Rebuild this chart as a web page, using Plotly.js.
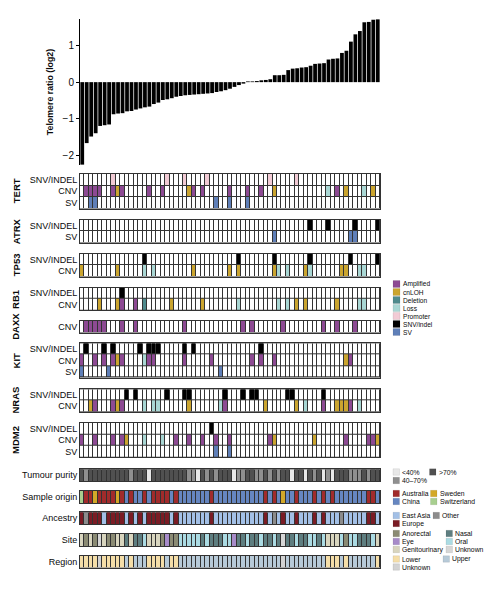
<!DOCTYPE html>
<html><head><meta charset="utf-8">
<script src="https://cdn.plot.ly/plotly-3.0.1.min.js"></script>
<style>body{margin:0;background:#fff}#chart{width:496px;height:590px}</style>
</head><body><div id="chart"></div>
<script>
// ---------------- DATA ----------------
const telomereRatio = [-2.26,-1.67,-1.49,-1.40,-1.20,-1.18,-1.16,-0.88,-0.86,-0.85,
  -0.80,-0.79,-0.75,-0.72,-0.69,-0.67,-0.60,-0.56,-0.49,-0.47,
  -0.44,-0.40,-0.38,-0.36,-0.35,-0.34,-0.33,-0.32,-0.31,-0.30,
  -0.27,-0.25,-0.22,-0.18,-0.13,-0.08,-0.04,0.02,0.02,0.03,
  0.05,0.06,0.08,0.19,0.19,0.20,0.33,0.37,0.38,0.40,
  0.41,0.45,0.50,0.51,0.52,0.62,0.64,0.65,0.80,0.86,
  1.11,1.31,1.40,1.64,1.65,1.71,1.72];
const nSamples = telomereRatio.length;

const mutCategories = ["Amplified","cnLOH","Deletion","Loss","Promoter","SNV/indel","SV"];
const mutColors = ["#8d4a93","#cba52f","#4f8b8d","#a9d7d4","#f2cbd5","#000000","#5f7fb8"];

// sample indices (0-based, in telomere order) carrying each alteration
const TERT_SNV  = {Promoter:[7,19,23,28,42,48]};
const TERT_CNV  = {Amplified:[1,2,3,4,7,9,15,18,25,27,33,37,40,57], cnLOH:[8,24,43,59,65], Loss:[55,63]};
const TERT_SV   = {SV:[2,3,30,33,37]};
const ATRX_SNV  = {"SNV/indel":[51,55,61,66]};
const ATRX_SV   = {SV:[43,60,61]};
const TP53_SNV  = {"SNV/indel":[14,35,43,51,60,66]};
const TP53_CNV  = {cnLOH:[0,8,25,33,35,43,50,58,59], Loss:[14,16,44,46,51,62,63]};
const RB1_SNV   = {"SNV/indel":[9]};
const RB1_CNV   = {cnLOH:[4,8,20,27,48,50,57], Amplified:[9,12], Deletion:[14], Loss:[35,44,46,62,63]};
const DAXX_CNV  = {Amplified:[1,2,3,4,5,9,12,23,36,38,45,54,57,61]};
const KIT_SNV   = {"SNV/indel":[1,5,7,13,15,16,17,23,25,40]};
const KIT_CNV   = {Amplified:[0,3,5,7,9,15,16,23,29,38,40,43,60], cnLOH:[8,59], Loss:[14]};
const KIT_SV    = {SV:[0,6,31]};
const NRAS_SNV  = {"SNV/indel":[10,12,19,23,24,32,36,38,39,46,47,54]};
const NRAS_CNV  = {cnLOH:[2,8,24,41,48,57,58,59], Amplified:[3,7,9,32,54,60], Loss:[14,16,17,31,50,62]};
const MDM2_SNV  = {"SNV/indel":[29]};
const MDM2_CNV  = {Amplified:[0,3,7,9,21,24,27,30,33,42,59,64,65], cnLOH:[10,43,52,66], Loss:[14,18]};
const MDM2_SV   = {SV:[30,33]};

const genes = ["TERT","ATRX","TP53","RB1","DAXX","KIT","NRAS","MDM2"];
const geneRows = {
  TERT: [["SNV/INDEL",TERT_SNV],["CNV",TERT_CNV],["SV",TERT_SV]],
  ATRX: [["SNV/INDEL",ATRX_SNV],["SV",ATRX_SV]],
  TP53: [["SNV/INDEL",TP53_SNV],["CNV",TP53_CNV]],
  RB1:  [["SNV/INDEL",RB1_SNV],["CNV",RB1_CNV]],
  DAXX: [["CNV",DAXX_CNV]],
  KIT:  [["SNV/INDEL",KIT_SNV],["CNV",KIT_CNV],["SV",KIT_SV]],
  NRAS: [["SNV/INDEL",NRAS_SNV],["CNV",NRAS_CNV]],
  MDM2: [["SNV/INDEL",MDM2_SNV],["CNV",MDM2_CNV],["SV",MDM2_SV]]
};

// clinical tracks: one letter per sample (spaces only for readability)
const purityCodes   = "HMHHHHHHHH HMHHHLHHHH HHHHMMLHMH MHHHLMMHHM MHMHMHHLHH LHMHLMLHHH MMMHMHH";
const purityKeys    = {L:"<40%", M:"40\u201370%", H:">70%"};
const purityColors  = {L:"#e8e8e8", M:"#8f8f8f", H:"#505050"};

const originCodes   = "WRRSRRRRSR BRBBRBRRRR BRBBBBBBBR BBBBBBBBBB BRBRBSBBRB BBRBRBRBBB BBBBRRB";
const originKeys    = {R:"Australia", B:"China", S:"Sweden", W:"Switzerland"};
const originColors  = {R:"#a12b2b", B:"#6686c0", S:"#d3a828", W:"#a8cf8f"};

const ancestryCodes = "UOUUUEUUUU EUEUEUUUUU EUEEEEEEEU EEEEEEEEEE EUEOEUEEUE EEUEUEEEOE EEEEUUE";
const ancestryKeys  = {E:"East Asia", U:"Europe", O:"Other"};
const ancestryColors= {E:"#a3c0e6", U:"#7a1c25", O:"#8c8c8c"};

const siteCodes     = "GAGAUGAAGG NGNNOGGGAE AAOOOOONON NNOOENNONN ONNONUNNON NOONOGGGOA OONNNOG";
const siteKeys      = {A:"Anorectal", E:"Eye", G:"Genitourinary", N:"Nasal", O:"Oral", U:"Unknown"};
const siteColors    = {A:"#8b8b74", E:"#a78bc9", G:"#d8d5be", N:"#5e7e80", O:"#abdbe3", U:"#d6d6d6"};

const regionCodes   = "LLLLXLLLLL PLPPPLLLLP LLPPPPPPPP PPPPPPPPPP PPPPPXPPPP PPPPPLLLPL PPPPPPL";
const regionKeys    = {L:"Lower", P:"Upper", X:"Unknown"};
const regionColors  = {L:"#f5dea8", P:"#b7cad8", X:"#d3d3d3"};

const trackNames = ["Tumour purity","Sample origin","Ancestry","Site","Region"];

// ---------------- LAYOUT HELPERS ----------------
const W = 496, H = 590;
const FONT = "Liberation Sans, Arial, sans-serif";
const px2y = p => 1 - p / H;
const dom = (top, bottom) => [px2y(bottom), px2y(top)];
const xDom = [80 / W, 380 / W];
const GRID = "#333333";
const TXT = "#0a0a0a";

const sampleIdx = Array.from({length: nSamples}, (_, i) => i);

function discreteScale(colors) {
  const n = colors.length, cs = [];
  colors.forEach((c, i) => { cs.push([i / n, c]); cs.push([(i + 1) / n, c]); });
  return cs;
}

const traces = [];
const layout = {
  width: W, height: H, autosize: false,
  margin: {l: 0, r: 0, t: 0, b: 0},
  paper_bgcolor: "#fff", plot_bgcolor: "#fff",
  showlegend: false, hovermode: false,
  font: {family: FONT, color: TXT, size: 9},
  bargap: 0.16,
  shapes: [], annotations: []
};

// bar chart
traces.push({type: "bar", x: sampleIdx, y: telomereRatio, xaxis: "x", yaxis: "y",
  marker: {color: "#000", line: {width: 0}}});
layout.xaxis = {domain: xDom, range: [-0.5, nSamples - 0.5], visible: false, anchor: "y", fixedrange: true};
layout.yaxis = {domain: dom(19, 165), range: [-2.27, 1.73], anchor: "x",
  tickvals: [-2, -1, 0, 1], ticks: "outside", ticklen: 3, tickcolor: "#000",
  showline: true, linecolor: "#000", linewidth: 1, showgrid: false, zeroline: false,
  tickfont: {family: FONT, size: 10, color: TXT},
  title: {text: "<b>Telomere ratio (log2)</b>", font: {family: FONT, size: 8.8, color: TXT}, standoff: 7}};

// grid x axis
layout.xaxis2 = {domain: xDom, range: [-0.5, nSamples - 0.5], anchor: "y2",
  showline: true, mirror: "all", linecolor: GRID, linewidth: 1,
  showticklabels: false, ticks: "", showgrid: false, zeroline: false, fixedrange: true};

const blockPx = {TERT: [174, 208.5], ATRX: [220, 242.5], TP53: [254, 276.5], RB1: [287.7, 310.2],
  DAXX: [321, 332.5], KIT: [343.3, 377.5], NRAS: [389.3, 411.8], MDM2: [422.7, 457.2]};

const mutScale = discreteScale(["#ffffff"].concat(mutColors));
let axN = 2;
genes.forEach(g => {
  const rows = geneRows[g];
  const rowNames = rows.map(r => r[0]);
  const z = rows.map(([name, obj]) => {
    const r = new Array(nSamples).fill(0);
    Object.keys(obj).forEach(cat => obj[cat].forEach(i => { r[i] = mutCategories.indexOf(cat) + 1; }));
    return r;
  });
  const yName = "y" + axN;
  traces.push({type: "heatmap", x: sampleIdx, y: rowNames, z: z,
    xaxis: "x2", yaxis: yName, colorscale: mutScale, zmin: -0.5, zmax: mutCategories.length + 0.5,
    showscale: false, xgap: 1, ygap: 1, hoverinfo: "skip"});
  layout["yaxis" + axN] = {domain: dom(blockPx[g][0], blockPx[g][1]), anchor: "x2",
    type: "category", autorange: "reversed", showline: true, mirror: true, linecolor: GRID, linewidth: 1,
    tickmode: "array", tickvals: rowNames, ticktext: rowNames, ticklabelstandoff: 0,
    ticks: "", showgrid: false, zeroline: false, fixedrange: true,
    tickfont: {family: FONT, size: 9, color: TXT}};
  layout.shapes.push({type: "rect", xref: "x2 domain", yref: yName + " domain", x0: 0, x1: 1, y0: 0, y1: 1,
    fillcolor: GRID, line: {width: 0}, layer: "below"});
  layout.annotations.push({xref: "paper", yref: yName + " domain", x: 16 / W, y: 0.5,
    text: "<b>" + g + "</b>", textangle: -90, showarrow: false, xanchor: "center", yanchor: "middle",
    font: {family: FONT, size: 9.5, color: TXT}});
  axN++;
});

// clinical tracks
const tracks = [
  [purityCodes, purityKeys, purityColors],
  [originCodes, originKeys, originColors],
  [ancestryCodes, ancestryKeys, ancestryColors],
  [siteCodes, siteKeys, siteColors],
  [regionCodes, regionKeys, regionColors]
];
const trackPx = [[469.3, 481.3], [491, 503], [512.3, 524.3], [534, 546], [555.7, 567.5]];
tracks.forEach((t, k) => {
  const codes = t[0].replace(/\s+/g, "").split("");
  const keys = Object.keys(t[1]);
  const z = [codes.map(c => keys.indexOf(c))];
  const yName = "y" + axN;
  traces.push({type: "heatmap", x: sampleIdx, y: [trackNames[k]], z: z,
    xaxis: "x2", yaxis: yName, colorscale: discreteScale(keys.map(c => t[2][c])),
    zmin: -0.5, zmax: keys.length - 0.5, showscale: false, xgap: 1, ygap: 0, hoverinfo: "skip"});
  layout["yaxis" + axN] = {domain: dom(trackPx[k][0], trackPx[k][1]), anchor: "x2",
    type: "category", showline: true, mirror: true, linecolor: GRID, linewidth: 1,
    tickmode: "array", tickvals: [trackNames[k]], ticktext: [trackNames[k]],
    ticks: "", showgrid: false, zeroline: false, fixedrange: true,
    tickfont: {family: FONT, size: 9, color: TXT}};
  layout.shapes.push({type: "rect", xref: "x2 domain", yref: yName + " domain", x0: 0, x1: 1, y0: 0, y1: 1,
    fillcolor: GRID, line: {width: 0}, layer: "below"});
  axN++;
});

// legends (paper-pixel positions)
function legendItem(xPx, yPx, size, color, label, fs) {
  layout.shapes.push({type: "rect", xref: "paper", yref: "paper",
    x0: xPx / W, x1: (xPx + size) / W, y0: px2y(yPx + size / 2), y1: px2y(yPx - size / 2),
    fillcolor: color, line: {width: 0.5, color: "rgba(0,0,0,0.15)"}});
  layout.annotations.push({xref: "paper", yref: "paper", x: (xPx + size + 1.5) / W, y: px2y(yPx),
    text: label, showarrow: false, xanchor: "left", yanchor: "middle", borderpad: 0,
    font: {family: FONT, size: fs, color: TXT}});
}
mutCategories.forEach((c, i) => legendItem(393, 284 + i * 8.0, 7, mutColors[i], c, 6.6));

const L1 = 393, FS = 6.8;
legendItem(L1, 472, 6.5, purityColors.L, purityKeys.L, FS);
legendItem(429.5, 472, 6.5, purityColors.H, purityKeys.H, FS);
legendItem(L1, 480.5, 6.5, purityColors.M, purityKeys.M, FS);

legendItem(L1, 493.5, 6.5, originColors.R, originKeys.R, FS);
legendItem(430.5, 493.5, 6.5, originColors.S, originKeys.S, FS);
legendItem(L1, 501.5, 6.5, originColors.B, originKeys.B, FS);
legendItem(430.5, 501.5, 6.5, originColors.W, originKeys.W, FS);

legendItem(L1, 515.5, 6.5, ancestryColors.E, ancestryKeys.E, FS);
legendItem(433, 515.5, 6.5, ancestryColors.O, ancestryKeys.O, FS);
legendItem(L1, 523.5, 6.5, ancestryColors.U, ancestryKeys.U, FS);

legendItem(L1, 533.5, 6.5, siteColors.A, siteKeys.A, FS);
legendItem(446, 533.5, 6.5, siteColors.N, siteKeys.N, FS);
legendItem(L1, 541.5, 6.5, siteColors.E, siteKeys.E, FS);
legendItem(446, 541.5, 6.5, siteColors.O, siteKeys.O, FS);
legendItem(L1, 549.5, 6.5, siteColors.G, siteKeys.G, FS);
legendItem(446, 549.5, 6.5, siteColors.U, siteKeys.U, FS);

legendItem(L1, 559, 6.5, regionColors.L, regionKeys.L, FS);
legendItem(443, 559, 6.5, regionColors.P, regionKeys.P, FS);
legendItem(L1, 567, 6.5, regionColors.X, regionKeys.X, FS);

Plotly.newPlot("chart", traces, layout, {staticPlot: true, displayModeBar: false});
</script>
</body></html>
